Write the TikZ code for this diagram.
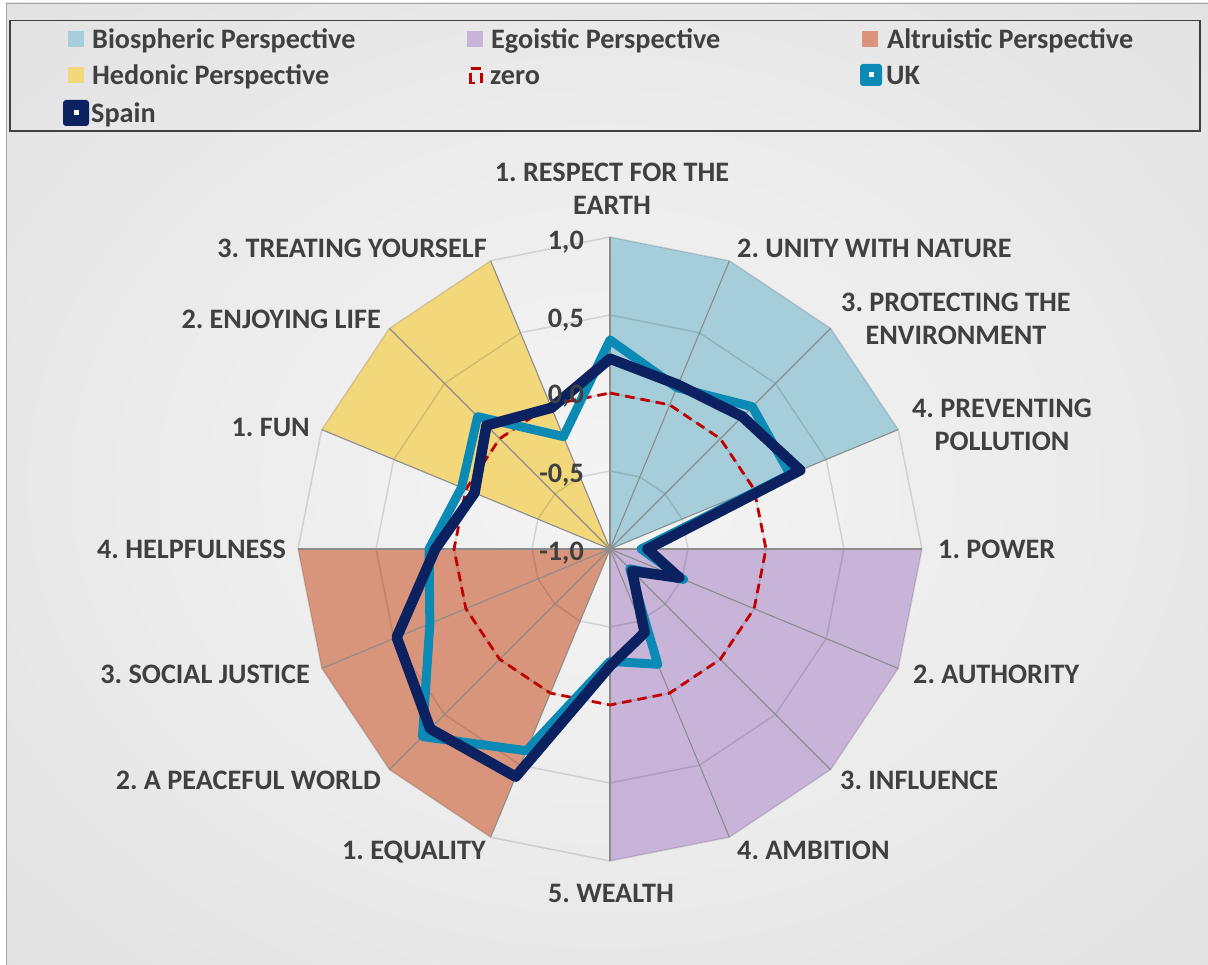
\documentclass[tikz,border=0pt]{standalone}
\usepackage{fontspec}
\setmainfont{Carlito}
\usetikzlibrary{calc}
\frenchspacing
\definecolor{txt}{HTML}{404040}
\definecolor{bio}{HTML}{A5CDDA}
\definecolor{ego}{HTML}{C7B4D8}
\definecolor{alt}{HTML}{D9957C}
\definecolor{hed}{HTML}{F3D77B}
\definecolor{ukc}{HTML}{0B8AB6}
\definecolor{esc}{HTML}{0B2160}
\definecolor{zer}{HTML}{C00000}
\definecolor{spk}{HTML}{8C8C8C}
\definecolor{brd}{HTML}{A6A6A6}
\definecolor{bgin}{HTML}{F4F4F4}
\definecolor{bgout}{HTML}{D9D9D9}
\pgfdeclareradialshading{bgshade}{\pgfpoint{0bp}{0bp}}{color(0bp)=(bgin); color(18bp)=(bgin!70!bgout); color(52bp)=(bgout); color(80bp)=(bgout)}
\begin{document}
\begin{tikzpicture}[x=1pt,y=-1pt,
  lbl/.style={inner sep=0pt, text=txt, font=\fontsize{28.2}{33}\selectfont\bfseries},
  sl/.style={lbl, text height=18.5pt, text depth=0pt},
  grid/.style={draw=black, opacity=0.12, line width=1.5pt},
  spoke/.style={draw=spk, line width=1.1pt},
  zeroline/.style={draw=zer, line width=2.8pt, dash pattern=on 9.5pt off 6pt},
  ukline/.style={draw=ukc, line width=9pt, line join=round, line cap=round},
  esline/.style={draw=esc, line width=10.5pt, line join=round, line cap=round},
  sq/.style={minimum size=16pt, inner sep=0pt},
  zicon/.style={draw=zer, line width=2.6pt},
]
\useasboundingbox (0,0) rectangle (1208,965);
\fill[white] (0,0) rectangle (1208,965);
\shade[shading=bgshade] (6,3) rectangle (1208,965);
\draw[brd, line width=1.4pt] (6.7,965) -- (6.7,3.7) -- (1208,3.7);

% geometry
\coordinate (C) at (610,549);
\foreach \k in {0,...,15}{
  \coordinate (o\k) at ({610+312*cos(90-22.5*\k)},{549-312*sin(90-22.5*\k)});
  \coordinate (h\k) at ({610+234*cos(90-22.5*\k)},{549-234*sin(90-22.5*\k)});
  \coordinate (z\k) at ({610+156*cos(90-22.5*\k)},{549-156*sin(90-22.5*\k)});
  \coordinate (q\k) at ({610+78*cos(90-22.5*\k)},{549-78*sin(90-22.5*\k)});
}

% perspective areas
\fill[bio] (C) -- (o0) -- (o1) -- (o2) -- (o3) -- cycle;
\fill[ego] (C) -- (o4) -- (o5) -- (o6) -- (o7) -- (o8) -- cycle;
\fill[alt] (C) -- (o9) -- (o10) -- (o11) -- (o12) -- cycle;
\fill[hed] (C) -- (o13) -- (o14) -- (o15) -- cycle;

% grid
\foreach \p in {o,h,z,q}{
  \path[grid] (\p0) \foreach \k in {1,...,15}{ -- (\p\k)} -- cycle;
}
\foreach \k in {0,...,15}{ \draw[spoke] (C) -- (o\k); }

% zero
\draw[zeroline] (z0) \foreach \k in {1,...,15}{ -- (z\k)} -- cycle;

% data
\foreach \v [count=\k from 0] in {0.34,0.12,0.29,0.25,-0.80,-0.49,-0.82,-0.20,-0.28,0.40,0.70,0.25,0.16,0.03,0.20,-0.22}{
  \coordinate (uk\k) at ({610+156*(1+\v)*cos(90-22.5*\k)},{549-156*(1+\v)*sin(90-22.5*\k)});
}
\foreach \v [count=\k from 0] in {0.22,0.14,0.20,0.32,-0.76,-0.52,-0.80,-0.42,-0.25,0.58,0.63,0.48,0.12,-0.06,0.12,-0.02}{
  \coordinate (es\k) at ({610+156*(1+\v)*cos(90-22.5*\k)},{549-156*(1+\v)*sin(90-22.5*\k)});
}
\draw[ukline] (uk0) \foreach \k in {1,...,15}{ -- (uk\k)} -- cycle;
\draw[esline] (es0) \foreach \k in {1,...,15}{ -- (es\k)} -- cycle;

% radial axis labels
\node[sl, anchor=east] (t1) at (584,240) {1,0};
\node[sl, anchor=east] (t2) at (584,318) {0,5};
\node[sl, anchor=east] (t3) at (584,394) {0,0};
\node[sl, anchor=east] (t4) at (584,473) {-0,5};
\node[sl, anchor=east] (t5) at (584,551) {-1,0};

% category labels
\node[lbl, align=center] (l0) at (612,189) {1. RESPECT FOR THE\\EARTH};
\node[sl, anchor=west] (l1) at (737,248) {2. UNITY WITH NATURE};
\node[lbl, align=center] (l2) at (956,319) {3. PROTECTING THE\\ENVIRONMENT};
\node[lbl, align=center] (l3) at (1002,425) {4. PREVENTING\\POLLUTION};
\node[sl, anchor=west] (l4) at (938,549) {1. POWER};
\node[sl, anchor=west] (l5) at (913,674) {2. AUTHORITY};
\node[sl, anchor=west] (l6) at (840,780) {3. INFLUENCE};
\node[sl, anchor=west] (l7) at (737,850) {4. AMBITION};
\node[sl] (l8) at (611,893) {5. WEALTH};
\node[sl, anchor=east] (l9) at (486,850) {1. EQUALITY};
\node[sl, anchor=east] (l10) at (381,780) {2. A PEACEFUL WORLD};
\node[sl, anchor=east] (l11) at (310,674) {3. SOCIAL JUSTICE};
\node[sl, anchor=east] (l12) at (286,549) {4. HELPFULNESS};
\node[sl, anchor=east] (l13) at (310,427) {1. FUN};
\node[sl, anchor=east] (l14) at (381,319) {2. ENJOYING LIFE};
\node[sl, anchor=east] (l15) at (487,248) {3. TREATING YOURSELF};

% legend
\draw[txt, line width=1.3pt] (10,20.5) rectangle (1200,131);
\node[sq, fill=bio] (kb) at (76,39) {};
\node[sl, anchor=west] (kbt) at (92,39) {Biospheric Perspective};
\node[sq, fill=ego] (ke) at (475,39) {};
\node[sl, anchor=west] (ket) at (491,39) {Egoistic Perspective};
\node[sq, fill=alt] (ka) at (870,39) {};
\node[sl, anchor=west] (kat) at (887,39) {Altruistic Perspective};
\node[sq, fill=hed] (kh) at (76,75) {};
\node[sl, anchor=west] (kht) at (92,75) {Hedonic Perspective};
\coordinate (zi1) at (471,68.5);
\coordinate (zi2) at (481,68.5);
\coordinate (zi3) at (470.5,73);
\coordinate (zi4) at (470.5,83);
\coordinate (zi5) at (474.5,83);
\coordinate (zi6) at (481.5,73);
\coordinate (zi7) at (481.5,83.5);
\draw[zicon] (zi1) -- (zi2);
\draw[zicon] (zi3) -- (zi4) -- (zi5);
\draw[zicon] (zi6) -- (zi7);
\node[sl, anchor=west] (kzt) at (490,75) {zero};
\node[fill=ukc, rounded corners=3pt, minimum size=22pt, inner sep=0pt] (ku) at (871,75) {};
\node[fill=white, minimum size=5pt, inner sep=0pt] (kud) at (871,75) {};
\node[sl, anchor=west] (kut) at (886,75) {UK};
\node[fill=esc, rounded corners=3pt, minimum size=26pt, inner sep=0pt] (ks) at (76,113) {};
\node[fill=white, minimum size=5pt, inner sep=0pt] (ksd) at (76,113) {};
\node[sl, anchor=west] (kst) at (91,113) {Spain};
\end{tikzpicture}
\end{document}
